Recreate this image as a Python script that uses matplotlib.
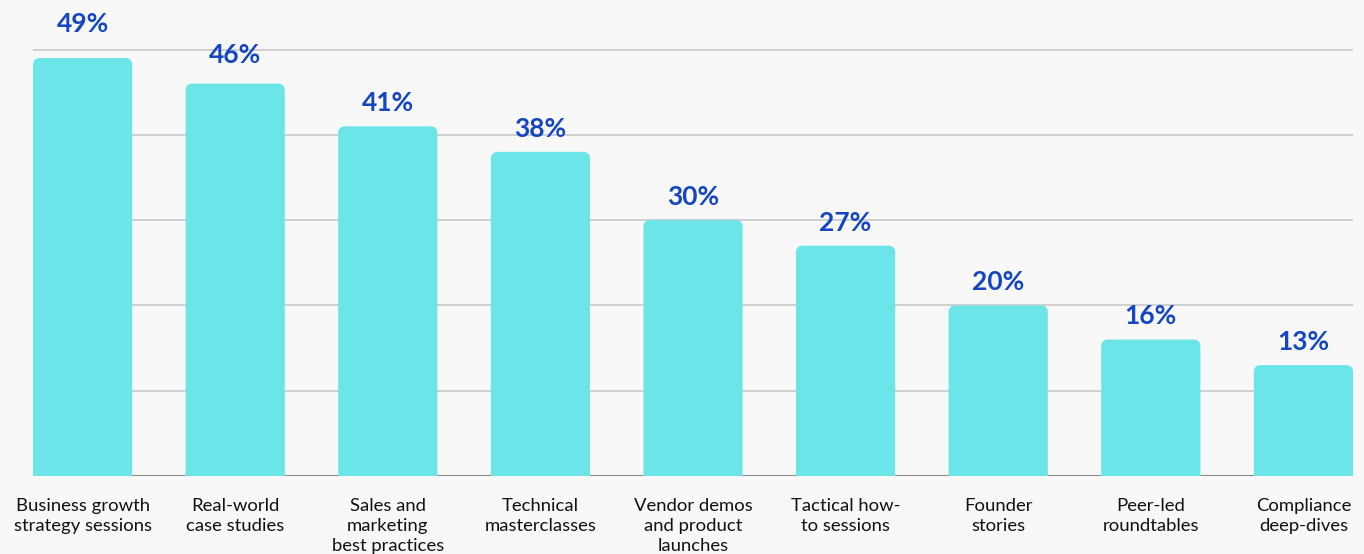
import matplotlib.pyplot as plt
from matplotlib.patches import FancyBboxPatch

topics = ["Business growth\nstrategy sessions", "Real-world\ncase studies",
          "Sales and\nmarketing\nbest practices", "Technical\nmasterclasses",
          "Vendor demos\nand product\nlaunches", "Tactical how-\nto sessions",
          "Founder\nstories", "Peer-led\nroundtables", "Compliance\ndeep-dives"]
shares = [49, 46, 41, 38, 30, 27, 20, 16, 13]

bar_color = "#6CE5E8"
label_color = "#1446C2"
bg = "#F8F8F8"

plt.rcParams["font.family"] = ["Lato", "DejaVu Sans"]

fig = plt.figure(figsize=(13.64, 5.54), dpi=100, facecolor=bg)
ax = fig.add_axes([33 / 1364, 78 / 554, 1320 / 1364, (52 * 8.53) / 554])
ax.set_facecolor(bg)

width = 0.65
ax.set_xlim(-width / 2, len(shares) - 1 + width / 2)
ax.set_ylim(0, 52)

# horizontal guides every 10%
for g in range(10, 60, 10):
    ax.axhline(g, color="#C8C8C8", lw=1.2, zorder=0)
ax.axhline(0, color="#8A8A8A", lw=1.5, zorder=0)

# bars with rounded tops; bottom corners drop below the axis and get clipped
bars = ax.bar(range(len(shares)), shares, width=width, color="none")
lift = [8, 4, 0, 0, 0, 0, 0, 0, 0]
for b, v, extra in zip(bars, shares, lift):
    x0 = b.get_x()
    p = FancyBboxPatch((x0, -2), width, v + 2,
                       boxstyle="round,pad=0,rounding_size=0.045",
                       mutation_aspect=17.9,
                       fc=bar_color, ec="none", zorder=2)
    ax.add_patch(p)
    p.set_clip_path(ax.patch)
    ax.annotate(f"{v}%", (b.get_x() + width / 2, v), xytext=(0, 8 + extra),
                textcoords="offset points", ha="center", va="bottom",
                fontsize=19, fontweight="bold", color=label_color,
                annotation_clip=False)

ax.set_xticks(range(len(topics)))
ax.set_xticklabels(topics, fontsize=13.3, linespacing=1.33, color="#111111")
ax.tick_params(axis="x", length=0, pad=15.5)
ax.set_yticks([])
for s in ax.spines.values():
    s.set_visible(False)

fig.savefig("out.png", dpi=100, facecolor=bg)
